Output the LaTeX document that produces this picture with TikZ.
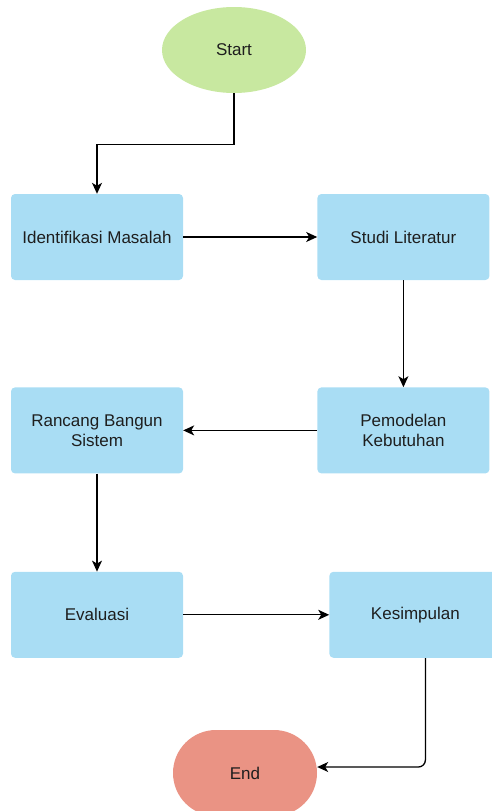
\documentclass[tikz,border=0pt]{standalone}
\usepackage{fontspec}
\setmainfont{Liberation Sans}
\usetikzlibrary{positioning,arrows.meta,shapes.geometric}

\definecolor{startgreen}{HTML}{C8E8A0}
\definecolor{stepblue}{HTML}{A9DDF4}
\definecolor{endred}{HTML}{EA9384}
\definecolor{labelgray}{HTML}{1E1E1E}

\begin{document}
\begin{tikzpicture}[x=1pt, y=-1pt,
    stepnode/.style={rectangle, rounded corners=4pt, fill=stepblue, minimum width=172pt, minimum height=86pt, align=center, text=labelgray, font=\fontsize{17}{20}\selectfont},
    startnode/.style={ellipse, fill=startgreen, minimum width=144pt, minimum height=86pt, text=labelgray, font=\fontsize{17}{20}\selectfont},
    endnode/.style={rectangle, rounded corners=43pt, fill=endred, minimum width=144pt, minimum height=86pt, text=labelgray, font=\fontsize{17}{20}\selectfont},
    flow/.style={draw=black, line width=1.3pt, -{Stealth[length=11pt, width=10pt, inset=3pt]}}]

    \useasboundingbox (0,0) rectangle (492,811);

    \node[startnode] (start) at (234,50) {Start};
    \node[stepnode] (ident) at (97,237) {Identifikasi Masalah};
    \node[stepnode] (studi) [right=134pt of ident] {Studi Literatur};
    \node[stepnode] (pemodelan) [below=107pt of studi] {Pemodelan\\Kebutuhan};
    \node[stepnode] (rancang) [left=134pt of pemodelan] {Rancang Bangun\\Sistem};
    \node[stepnode] (evaluasi) [below=98pt of rancang] {Evaluasi};
    \node[stepnode] (kesimpulan) [right=146pt of evaluasi] {Kesimpulan};
    \node[endnode] (end) at (245,773) {End};

    % alur
    \draw[flow] (start.south) -- ++(0,51) -| (ident.north);
    \draw[flow] (ident) -- (studi);
    \draw[flow] (studi) -- (pemodelan);
    \draw[flow] (pemodelan) -- (rancang);
    \draw[flow] (rancang) -- (evaluasi);
    \draw[flow] (evaluasi) -- (kesimpulan);
    \draw[flow, rounded corners=7pt] ([xshift=10pt]kesimpulan.south) |- ([yshift=6pt]end.east);

\end{tikzpicture}
\end{document}
